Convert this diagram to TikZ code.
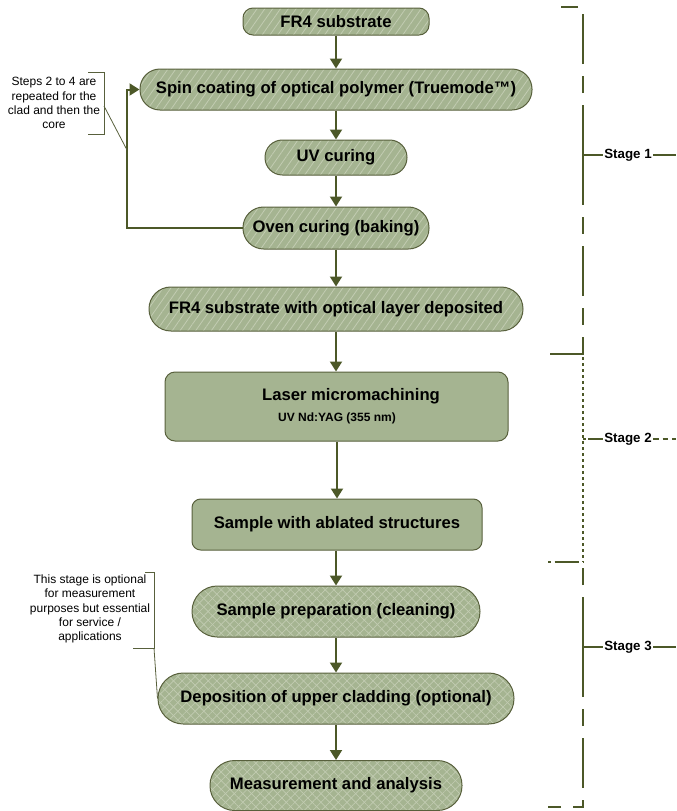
\documentclass[tikz,border=0pt]{standalone}
\usepackage{fontspec}
\setmainfont{Liberation Sans}
\usetikzlibrary{arrows.meta,patterns.meta}
\definecolor{boxfill}{RGB}{165,180,145}
\definecolor{hatchc}{RGB}{194,204,178}
\definecolor{boxline}{RGB}{88,96,60}
\definecolor{arr}{RGB}{76,88,40}
\tikzset{
  boxbase/.style={draw=boxline, line width=0.75pt, inner sep=0pt, text=black,
    font=\bfseries\fontsize{12.5}{15}\selectfont},
  hatchbox/.style={boxbase, preaction={fill=boxfill},
    preaction={pattern={Lines[angle=55,distance=4.8pt,line width=0.6pt]}, pattern color=hatchc}},
  plainbox/.style={boxbase, fill=boxfill},
  crossbox/.style={boxbase, preaction={fill=boxfill},
    preaction={pattern={Lines[angle=45,distance=4.6pt,line width=0.5pt]}, pattern color=hatchc},
    preaction={pattern={Lines[angle=-45,distance=4.6pt,line width=0.5pt]}, pattern color=hatchc}},
  flow/.style={draw=arr, line width=1.5pt, -{Triangle[length=7.5pt,width=9pt]}},
  note/.style={align=center, inner sep=0pt, font=\fontsize{9}{10.6}\selectfont},
  notebr/.style={draw=boxline, line width=0.6pt},
  stagelbl/.style={inner sep=1pt, font=\bfseries\fontsize{10}{12}\selectfont},
  stagedash/.style={draw=arr, line width=1.5pt, dash pattern=on 37.5pt off 9pt on 12.75pt off 9pt},
  stagedot/.style={draw=arr, line width=1.5pt, dash pattern=on 2pt off 2.5pt},
  stagesolid/.style={draw=arr, line width=1.5pt},
}
\begin{document}
\begin{tikzpicture}[x=0.75pt,y=-0.75pt]
\useasboundingbox (0,0) rectangle (676,811);

% Stage 1 boxes
\node[hatchbox, rounded corners=7.5pt, minimum width=186*0.75pt, minimum height=27*0.75pt] (n1) at (336,21.5) {FR4 substrate};
\node[hatchbox, rounded corners=15pt, minimum width=392*0.75pt, minimum height=41*0.75pt] (n2) at (336,89.5) {Spin coating of optical polymer (Truemode™)};
\node[hatchbox, rounded corners=13pt, minimum width=142*0.75pt, minimum height=35*0.75pt] (n3) at (336,157.5) {UV curing};
\node[hatchbox, rounded corners=15.5pt, minimum width=186*0.75pt, minimum height=42*0.75pt] (n4) at (336,228) {Oven curing (baking)};
\node[hatchbox, rounded corners=16.4pt, minimum width=374*0.75pt, minimum height=44*0.75pt] (n5) at (336,309) {FR4 substrate with optical layer deposited};

% Stage 2 boxes
\node[plainbox, rounded corners=7.5pt, minimum width=343*0.75pt, minimum height=69*0.75pt] (n6) at (336.5,406.5) {};
\node[inner sep=0pt, font=\bfseries\fontsize{12.5}{15}\selectfont] (n6a) at (351,396) {Laser micromachining};
\node[inner sep=0pt, font=\bfseries\fontsize{9}{11}\selectfont] (n6b) at (337,418) {UV Nd:YAG (355 nm)};
\node[plainbox, rounded corners=6.5pt, minimum width=290*0.75pt, minimum height=51*0.75pt] (n7) at (337,524.5) {Sample with ablated structures};

% Stage 3 boxes
\node[crossbox, rounded corners=19pt, minimum width=288*0.75pt, minimum height=51*0.75pt] (n8) at (336,611.5) {Sample preparation (cleaning)};
\node[crossbox, rounded corners=19pt, minimum width=356*0.75pt, minimum height=51*0.75pt] (n9) at (336,698.5) {Deposition of upper cladding (optional)};
\node[crossbox, rounded corners=18.5pt, minimum width=252*0.75pt, minimum height=50*0.75pt] (n10) at (336,785.5) {Measurement and analysis};

% flow arrows
\draw[flow] (n1) -- (n2);
\draw[flow] (n2) -- (n3);
\draw[flow] (n3) -- (n4);
\draw[flow] (n4) -- (n5);
\draw[flow] (n5.south) -- (n6.north -| n5.south);
\draw[flow] (n6.south -| n7.north) -- (n7.north);
\draw[flow] (n7.south -| n8.north) -- (n8);
\draw[flow] (n8) -- (n9);
\draw[flow] (n9) -- (n10);

% feedback loop
\coordinate (fb) at (127,228);
\draw[flow] (n4.west) -- (fb) |- (n2.west);

% annotation 1
\node[note] (a1) at (54,103) {Steps 2 to 4 are\\repeated for the\\clad and then the\\core};
\draw[notebr] (88,72) -- (104,72) -- (104,134) -- (88,134);
\coordinate (a1m) at (104,106);
\coordinate (a1e) at (127,150);
\draw[notebr] (a1m) -- (a1e);

% annotation 2
\node[note] (a2) at (90,609) {This stage is optional\\for measurement\\purposes but essential\\for service /\\applications};
\draw[notebr] (145,572) -- (154,572) -- (154,648) -- (133,648);
\coordinate (a2m) at (154,648);
\draw[notebr] (a2m) -- (n9.west);

% Stage 1 bracket
\node[stagelbl] (s1) at (628,155) {Stage 1};
\coordinate (s1c) at (583,155);
\draw[stagedash] (s1c) -- (583,7) -- (555,7);
\draw[stagedash] (s1c) -- (583,354) -- (548,354);
\draw[stagesolid] (s1c) -- (s1.west);
\draw[stagesolid] (s1.east) -- (676,155);

% Stage 2 bracket
\node[stagelbl] (s2) at (628,439) {Stage 2};
\coordinate (s2c) at (583,439);
\draw[stagedot] (583,357) -- (583,562);
\draw[draw=arr, line width=1.5pt, dash pattern=on 2pt off 3pt on 18pt off 3pt] (548,562) -- (583,562);
\draw[draw=arr, line width=1.5pt, dash pattern=on 2pt off 2pt on 12pt off 2pt] (s2c) -- (s2.west);
\draw[draw=arr, line width=1.5pt, dash pattern=on 4pt off 3pt] (s2.east) -- (676,439);

% Stage 3 bracket
\node[stagelbl] (s3) at (628,647) {Stage 3};
\coordinate (s3c) at (583,647);
\draw[stagedash] (s3c) -- (583,566);
\draw[stagedash] (s3c) -- (583,807) -- (548,807);
\draw[stagesolid] (s3c) -- (s3.west);
\draw[stagesolid] (s3.east) -- (676,647);
\end{tikzpicture}
\end{document}
